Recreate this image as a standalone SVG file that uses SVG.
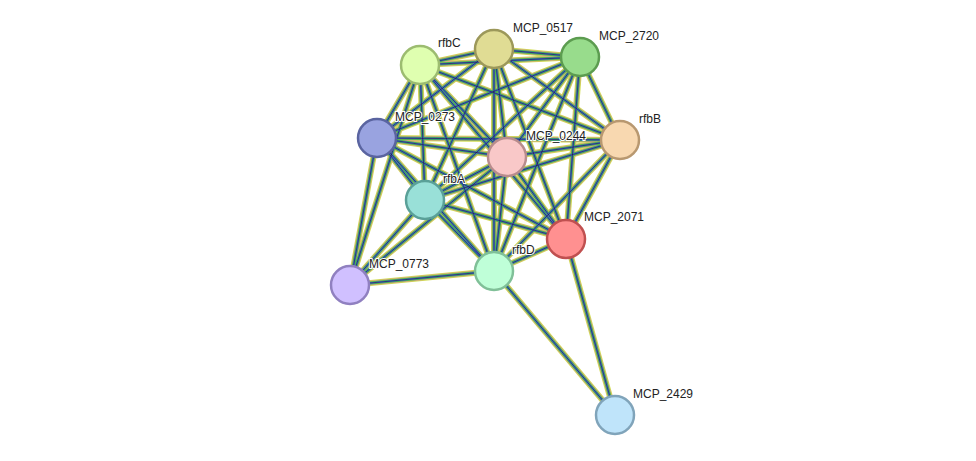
<svg xmlns="http://www.w3.org/2000/svg" xmlns:xlink="http://www.w3.org/1999/xlink" width="976" height="461" viewBox="0 0 976 461">
<style>
.n{stroke-width:2.5}
text{font-family:"Liberation Sans",Arial,sans-serif;font-size:12px;fill:#222;paint-order:stroke;stroke:#fff;stroke-width:2px}
</style>
<defs>
<g id="e" fill="none">
<line x1="420" y1="65" x2="494" y2="49"/><line x1="420" y1="65" x2="580" y2="57"/><line x1="420" y1="65" x2="377" y2="138"/><line x1="420" y1="65" x2="507" y2="157"/><line x1="420" y1="65" x2="620" y2="140"/><line x1="420" y1="65" x2="425" y2="200"/><line x1="420" y1="65" x2="566" y2="239"/><line x1="420" y1="65" x2="494" y2="271"/>
<line x1="494" y1="49" x2="580" y2="57"/><line x1="494" y1="49" x2="377" y2="138"/><line x1="494" y1="49" x2="507" y2="157"/><line x1="494" y1="49" x2="620" y2="140"/><line x1="494" y1="49" x2="425" y2="200"/><line x1="494" y1="49" x2="566" y2="239"/><line x1="494" y1="49" x2="494" y2="271"/>
<line x1="580" y1="57" x2="377" y2="138"/><line x1="580" y1="57" x2="507" y2="157"/><line x1="580" y1="57" x2="620" y2="140"/><line x1="580" y1="57" x2="425" y2="200"/><line x1="580" y1="57" x2="566" y2="239"/><line x1="580" y1="57" x2="494" y2="271"/>
<line x1="377" y1="138" x2="507" y2="157"/><line x1="377" y1="138" x2="620" y2="140"/><line x1="377" y1="138" x2="425" y2="200"/><line x1="377" y1="138" x2="566" y2="239"/><line x1="377" y1="138" x2="494" y2="271"/>
<line x1="507" y1="157" x2="620" y2="140"/><line x1="507" y1="157" x2="425" y2="200"/><line x1="507" y1="157" x2="566" y2="239"/><line x1="507" y1="157" x2="494" y2="271"/>
<line x1="620" y1="140" x2="425" y2="200"/><line x1="620" y1="140" x2="566" y2="239"/><line x1="620" y1="140" x2="494" y2="271"/>
<line x1="425" y1="200" x2="566" y2="239"/><line x1="425" y1="200" x2="494" y2="271"/>
<line x1="566" y1="239" x2="494" y2="271"/>
<line x1="350" y1="285" x2="377" y2="138"/><line x1="350" y1="285" x2="420" y2="65"/><line x1="350" y1="285" x2="425" y2="200"/><line x1="350" y1="285" x2="494" y2="271"/><line x1="350" y1="285" x2="507" y2="157"/>
<line x1="615" y1="415" x2="494" y2="271"/><line x1="615" y1="415" x2="566" y2="239"/>
</g>
</defs>
<g id="connectors">
<use xlink:href="#e" stroke="#d0dc50" stroke-width="6"/>
<use xlink:href="#e" stroke="#d050d0" stroke-width="4.5" opacity="0.4"/>
<use xlink:href="#e" stroke="#40b840" stroke-width="3.2"/>
<use xlink:href="#e" stroke="#4060e8" stroke-width="1.6"/>
<use xlink:href="#e" stroke="#222" stroke-width="0.6"/>
</g>
<g id="rfbC"><circle class="n" cx="420" cy="65" r="19" fill="#dfffb0" stroke="#9cbc70"/><text x="438" y="47">rfbC</text></g>
<g id="MCP_0517"><circle class="n" cx="494" cy="49" r="19" fill="#e0dc94" stroke="#9c985a"/><text x="513" y="32">MCP_0517</text></g>
<g id="MCP_2720"><circle class="n" cx="580" cy="57" r="19" fill="#98dc8c" stroke="#5c9c50"/><text x="599" y="40">MCP_2720</text></g>
<g id="MCP_0273"><circle class="n" cx="377" cy="138" r="19" fill="#99a3e0" stroke="#5a64a0"/><text x="395" y="121">MCP_0273</text></g>
<g id="MCP_0244"><circle class="n" cx="507" cy="157" r="19" fill="#f9c8c8" stroke="#b88c8c"/><text x="526" y="140">MCP_0244</text></g>
<g id="rfbB"><circle class="n" cx="620" cy="140" r="19" fill="#f8d8b0" stroke="#b89870"/><text x="639" y="123">rfbB</text></g>
<g id="rfbA"><circle class="n" cx="425" cy="200" r="19" fill="#99e0d8" stroke="#5aa098"/><text x="443" y="183">rfbA</text></g>
<g id="MCP_2071"><circle class="n" cx="566" cy="239" r="19" fill="#ff9090" stroke="#c05050"/><text x="584" y="221">MCP_2071</text></g>
<g id="rfbD"><circle class="n" cx="494" cy="271" r="19" fill="#bfffd8" stroke="#80c098"/><text x="512" y="254">rfbD</text></g>
<g id="MCP_0773"><circle class="n" cx="350" cy="285" r="19" fill="#d0c0ff" stroke="#9080c0"/><text x="369" y="268">MCP_0773</text></g>
<g id="MCP_2429"><circle class="n" cx="615" cy="415" r="19" fill="#bfe4fa" stroke="#80a4ba"/><text x="633" y="398">MCP_2429</text></g>
</svg>
